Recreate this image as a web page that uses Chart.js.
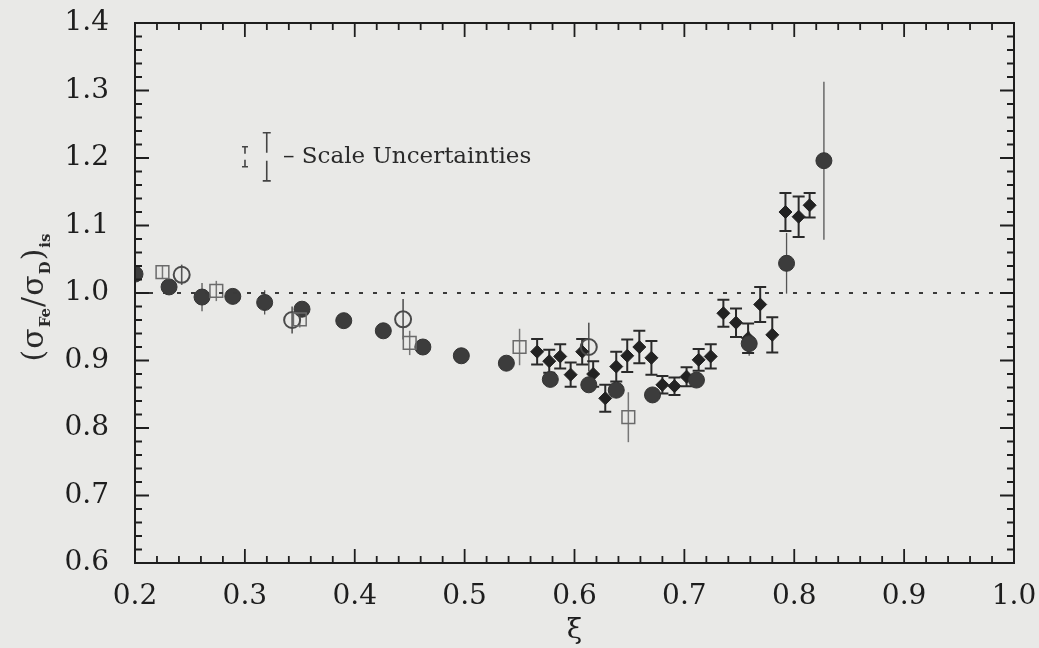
<!DOCTYPE html>
<html>
<head>
<meta charset="utf-8">
<script src="https://cdn.jsdelivr.net/npm/chart.js@4.4.1/dist/chart.umd.min.js"></script>
<style>
  html, body { margin: 0; padding: 0; background: #e9e9e7; }
  #wrap { width: 1039px; height: 648px; }
</style>
</head>
<body>
<div id="wrap"><canvas id="ratioChart" width="1039" height="648"></canvas></div>
<script>
// filled circles
const circleX   = [0.200, 0.231, 0.261, 0.289, 0.318, 0.352, 0.390, 0.426, 0.462, 0.497, 0.538, 0.578, 0.613, 0.638, 0.671, 0.711, 0.759, 0.793, 0.827];
const circleY   = [1.028, 1.009, 0.994, 0.995, 0.986, 0.976, 0.959, 0.944, 0.920, 0.907, 0.896, 0.872, 0.864, 0.856, 0.849, 0.871, 0.925, 1.044, 1.196];
const circleErr = [0.000, 0.009, 0.021, 0.000, 0.018, 0.000, 0.000, 0.000, 0.000, 0.000, 0.000, 0.000, 0.000, 0.000, 0.000, 0.000, 0.018, 0.045, 0.117];

// open circles
const ringX   = [0.2425, 0.343, 0.444, 0.613];
const ringY   = [1.027, 0.960, 0.961, 0.920];
const ringErr = [0.015, 0.020, 0.030, 0.036];

// open squares
const squareX   = [0.225, 0.274, 0.350, 0.450, 0.550, 0.649];
const squareY   = [1.031, 1.003, 0.961, 0.926, 0.920, 0.816];
const squareErr = [0.009, 0.015, 0.012, 0.018, 0.027, 0.037];

// filled diamonds
const diamondX   = [0.566, 0.577, 0.587, 0.5965, 0.607, 0.617, 0.628, 0.638, 0.648, 0.659, 0.670, 0.680, 0.691, 0.702, 0.713, 0.724, 0.7355, 0.747, 0.758, 0.769, 0.780, 0.792, 0.804, 0.814];
const diamondY   = [0.913, 0.899, 0.906, 0.879, 0.913, 0.880, 0.844, 0.891, 0.907, 0.920, 0.904, 0.864, 0.862, 0.876, 0.901, 0.906, 0.970, 0.956, 0.933, 0.983, 0.938, 1.120, 1.113, 1.130];
const diamondErr = [0.019, 0.017, 0.018, 0.018, 0.019, 0.019, 0.020, 0.022, 0.024, 0.024, 0.025, 0.013, 0.013, 0.014, 0.016, 0.018, 0.020, 0.021, 0.022, 0.026, 0.026, 0.028, 0.030, 0.018];

// scale uncertainty key
const scaleKeyX = [0.3001, 0.3199];
const scaleKeyY = 1.2018;
const scaleKeyErr = [0.0148, 0.0357];
const scaleKeyText = '\u2013 Scale Uncertainties';
const scaleKeyTextX = 0.3347;

const refLine = 1.0;
const xTickValues = [0.2, 0.3, 0.4, 0.5, 0.6, 0.7, 0.8, 0.9, 1.0];
const yTickValues = [0.6, 0.7, 0.8, 0.9, 1.0, 1.1, 1.2, 1.3, 1.4];
const minorStep = 0.02;

const toPoints = (xs, ys) => xs.map((x, i) => ({ x: x, y: ys[i] }));

const errorBars = {
  id: 'errorBars',
  beforeDatasetsDraw(chart) {
    const ctx = chart.ctx;
    const xs = chart.scales.x, ys = chart.scales.y;
    chart.data.datasets.forEach(ds => {
      if (!ds.errors) return;
      ctx.save();
      ctx.strokeStyle = ds.errColor;
      ctx.lineWidth = ds.errWidth;
      ds.data.forEach((p, i) => {
        const e = ds.errors[i];
        if (!e) return;
        const px = xs.getPixelForValue(p.x);
        const top = ys.getPixelForValue(p.y + e);
        const bot = ys.getPixelForValue(p.y - e);
        ctx.beginPath();
        ctx.moveTo(px, top);
        ctx.lineTo(px, bot);
        if (ds.capWidth) {
          ctx.moveTo(px - ds.capWidth, top);
          ctx.lineTo(px + ds.capWidth, top);
          ctx.moveTo(px - ds.capWidth, bot);
          ctx.lineTo(px + ds.capWidth, bot);
        }
        ctx.stroke();
      });
      ctx.restore();
    });
  }
};

const frame = {
  id: 'frame',
  afterDraw(chart) {
    const ctx = chart.ctx;
    const a = chart.chartArea;
    const xs = chart.scales.x, ys = chart.scales.y;
    ctx.save();
    ctx.strokeStyle = '#1e1e1e';
    ctx.lineWidth = 2;
    ctx.strokeRect(a.left, a.top, a.right - a.left, a.bottom - a.top);

    // ticks on all four sides, pointing in
    ctx.lineWidth = 1.8;
    ctx.beginPath();
    for (let v = 0.2; v <= 1.0001; v += minorStep) {
      const major = xTickValues.some(t => Math.abs(t - v) < 1e-6);
      const len = major ? 14 : 7;
      const px = xs.getPixelForValue(v);
      ctx.moveTo(px, a.bottom); ctx.lineTo(px, a.bottom - len);
      ctx.moveTo(px, a.top); ctx.lineTo(px, a.top + len);
    }
    for (let v = 0.6; v <= 1.4001; v += minorStep) {
      const major = yTickValues.some(t => Math.abs(t - v) < 1e-6);
      const len = major ? 14 : 7;
      const py = ys.getPixelForValue(v);
      ctx.moveTo(a.left, py); ctx.lineTo(a.left + len, py);
      ctx.moveTo(a.right, py); ctx.lineTo(a.right - len, py);
    }
    ctx.stroke();

    // scale uncertainty key
    ctx.strokeStyle = '#444';
    ctx.lineWidth = 1.6;
    scaleKeyX.forEach((kx, i) => {
      const px = xs.getPixelForValue(kx);
      const top = ys.getPixelForValue(scaleKeyY + scaleKeyErr[i]);
      const bot = ys.getPixelForValue(scaleKeyY - scaleKeyErr[i]);
      const mid = ys.getPixelForValue(scaleKeyY);
      const cap = i === 0 ? 3 : 4;
      const gap = i === 0 ? 3 : 4;
      ctx.beginPath();
      ctx.moveTo(px, top); ctx.lineTo(px, mid - gap);
      ctx.moveTo(px, mid + gap); ctx.lineTo(px, bot);
      ctx.moveTo(px - cap, top); ctx.lineTo(px + cap, top);
      ctx.moveTo(px - cap, bot); ctx.lineTo(px + cap, bot);
      ctx.stroke();
    });
    ctx.fillStyle = '#2a2a2a';
    ctx.font = '23px "DejaVu Serif"';
    ctx.textBaseline = 'alphabetic';
    ctx.fillText(scaleKeyText, xs.getPixelForValue(scaleKeyTextX), ys.getPixelForValue(scaleKeyY) + 6);

    // y axis title (σFe/σD)is
    const big = '30px "DejaVu Serif"';
    const small = 'bold 15px "DejaVu Serif"';
    const parts = [
      { t: '(', f: big, d: 0 }, { t: 'σ', f: big, d: 0 }, { t: 'Fe', f: small, d: 7 },
      { t: '/', f: big, d: 0 }, { t: 'σ', f: big, d: 0 }, { t: 'D', f: small, d: 7 },
      { t: ')', f: big, d: 0 }, { t: 'is', f: small, d: 7 }
    ];
    let total = 0;
    parts.forEach(p => { ctx.font = p.f; p.w = ctx.measureText(p.t).width + 1; total += p.w; });
    ctx.translate(43, (a.top + a.bottom) / 2 + 4);
    ctx.rotate(-Math.PI / 2);
    let cx = -total / 2;
    parts.forEach(p => {
      ctx.font = p.f;
      ctx.fillText(p.t, cx, p.d);
      cx += p.w;
    });
    ctx.restore();
  }
};

const tickFont = { family: 'DejaVu Serif', size: 28 };

new Chart(document.getElementById('ratioChart'), {
  type: 'scatter',
  data: {
    datasets: [
      {
        type: 'line',
        data: [{ x: 0.2, y: refLine }, { x: 1.0, y: refLine }],
        borderColor: '#3a3a3a',
        borderWidth: 2,
        borderDash: [4, 10],
        pointRadius: 0
      },
      {
        data: toPoints(squareX, squareY),
        errors: squareErr, errColor: '#777', errWidth: 1.5, capWidth: 0,
        pointStyle: 'rect', pointRadius: 9,
        backgroundColor: 'rgba(0,0,0,0)', borderColor: '#6a6a6a', borderWidth: 1.5
      },
      {
        data: toPoints(ringX, ringY),
        errors: ringErr, errColor: '#555', errWidth: 1.6, capWidth: 0,
        pointStyle: 'circle', pointRadius: 8,
        backgroundColor: 'rgba(0,0,0,0)', borderColor: '#4a4a4a', borderWidth: 2
      },
      {
        data: toPoints(circleX, circleY),
        errors: circleErr, errColor: '#555', errWidth: 1.3, capWidth: 0,
        pointStyle: 'circle', pointRadius: 8,
        backgroundColor: '#3c3c3c', borderColor: '#333', borderWidth: 1
      },
      {
        data: toPoints(diamondX, diamondY),
        errors: diamondErr, errColor: '#2a2a2a', errWidth: 2, capWidth: 6,
        pointStyle: 'rectRot', pointRadius: 6.5,
        backgroundColor: '#222', borderColor: '#222', borderWidth: 1
      }
    ]
  },
  options: {
    responsive: false,
    animation: false,
    layout: { padding: { left: 0, right: 25, top: 23, bottom: 0 } },
    plugins: { legend: { display: false }, tooltip: { enabled: false } },
    scales: {
      x: {
        type: 'linear', min: 0.2, max: 1.0,
        grid: { display: false, drawTicks: false },
        border: { display: false },
        afterBuildTicks: s => { s.ticks = xTickValues.map(v => ({ value: v })); },
        afterFit: s => { s.height = 85; s.paddingLeft = 0; s.paddingRight = 0; },
        ticks: { font: tickFont, color: '#1e1e1e', padding: 17, callback: v => v.toFixed(1) },
        title: { display: true, text: 'ξ', font: { family: 'DejaVu Serif', size: 28 }, color: '#1e1e1e', padding: { top: 0, bottom: 0 } }
      },
      y: {
        type: 'linear', min: 0.6, max: 1.4,
        grid: { display: false, drawTicks: false },
        border: { display: false },
        afterBuildTicks: s => { s.ticks = yTickValues.map(v => ({ value: v })); },
        afterFit: s => { s.width = 135; s.paddingTop = 0; s.paddingBottom = 0; },
        ticks: { font: tickFont, color: '#1e1e1e', padding: 26, callback: v => v.toFixed(1) }
      }
    }
  },
  plugins: [errorBars, frame]
});
</script>
</body>
</html>
